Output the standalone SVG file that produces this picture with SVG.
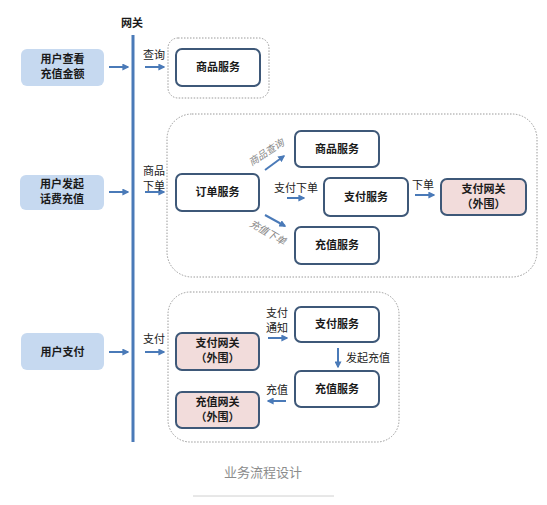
<svg xmlns="http://www.w3.org/2000/svg" width="547" height="505" viewBox="0 0 547 505">
<style>
.user{fill:#c6d9f0;stroke:none}
.svc{fill:#fff;stroke:#3e5878;stroke-width:2}
.ext{fill:#f2dcdb;stroke:#3e5878;stroke-width:2}
.grp{fill:none;stroke:#9a9a9a;stroke-width:1;stroke-dasharray:1.5 1.5}
.b{font-family:"Noto Sans CJK SC",sans-serif;font-size:11px;font-weight:bold;fill:#1a1a1a;text-anchor:middle}
.l{font-family:"Noto Sans CJK SC",sans-serif;font-size:11px;fill:#222}
.g{font-family:"Noto Sans CJK SC",serif;font-size:10px;fill:#888;font-style:italic}
.arr{stroke:#4a7ab8;stroke-width:2;fill:none;marker-end:url(#ah)}
</style>
<defs>
<marker id="ah" viewBox="0 0 10 10" refX="8" refY="5" markerWidth="3.5" markerHeight="3.5" orient="auto">
<path d="M0,0 L10,5 L0,10 z" fill="#4a7ab8"/>
</marker>
</defs>
<rect width="547" height="505" fill="#fff"/>

<g id="gateway">
<line x1="133" y1="35" x2="133" y2="442" stroke="#4a7ab8" stroke-width="3"/>
<text x="132" y="27" class="b">网关</text>
</g>

<g id="groups">
<rect class="grp" x="168" y="38" width="101" height="60" rx="10"/>
<rect class="grp" x="167" y="114" width="370" height="163" rx="25"/>
<rect class="grp" x="168" y="292" width="231" height="150" rx="22"/>
</g>

<g id="u1"><rect class="user" x="21" y="49" width="83" height="37" rx="6"/><text class="b" x="62.5" y="63">用户查看</text><text class="b" x="62.5" y="78">充值金额</text></g>
<g id="u2"><rect class="user" x="20" y="175" width="84" height="35" rx="6"/><text class="b" x="62" y="188">用户发起</text><text class="b" x="62" y="203">话费充值</text></g>
<g id="u3"><rect class="user" x="21" y="333" width="83" height="37" rx="6"/><text class="b" x="62.5" y="356">用户支付</text></g>

<g id="n1"><rect class="svc" x="176" y="49" width="84" height="37" rx="6"/><text class="b" x="218" y="71">商品服务</text></g>
<g id="n2"><rect class="svc" x="176" y="174" width="83" height="37" rx="6"/><text class="b" x="217.5" y="196">订单服务</text></g>
<g id="n3"><rect class="svc" x="295" y="131" width="84" height="36" rx="6"/><text class="b" x="337" y="153">商品服务</text></g>
<g id="n4"><rect class="svc" x="324" y="178" width="84" height="38" rx="6"/><text class="b" x="366" y="201">支付服务</text></g>
<g id="n5"><rect class="svc" x="295" y="227" width="84" height="37" rx="6"/><text class="b" x="337" y="249">充值服务</text></g>
<g id="n6"><rect class="ext" x="441" y="179" width="85" height="36" rx="6"/><text class="b" x="483.5" y="193">支付网关</text><text class="b" x="483.5" y="208">（外围）</text></g>
<g id="n7"><rect class="ext" x="176" y="333" width="83" height="37" rx="6"/><text class="b" x="217.5" y="347">支付网关</text><text class="b" x="217.5" y="362">（外围）</text></g>
<g id="n8"><rect class="ext" x="176" y="392" width="83" height="36" rx="6"/><text class="b" x="217.5" y="406">充值网关</text><text class="b" x="217.5" y="421">（外围）</text></g>
<g id="n9"><rect class="svc" x="295" y="307" width="84" height="35" rx="6"/><text class="b" x="337" y="328">支付服务</text></g>
<g id="n10"><rect class="svc" x="295" y="371" width="84" height="36" rx="6"/><text class="b" x="337" y="393">充值服务</text></g>

<g id="connectors">
<line class="arr" x1="109" y1="67" x2="128" y2="67"/>
<line class="arr" x1="109" y1="192" x2="128" y2="192"/>
<line class="arr" x1="109" y1="352" x2="128" y2="352"/>
<line class="arr" x1="145" y1="67" x2="164" y2="67"/>
<line class="arr" x1="145" y1="192" x2="164" y2="192"/>
<line class="arr" x1="145" y1="352" x2="164" y2="352"/>
<line class="arr" x1="265" y1="170" x2="284" y2="156"/>
<line class="arr" x1="265" y1="215" x2="285" y2="226"/>
<line class="arr" x1="287" y1="198" x2="304" y2="198"/>
<line class="arr" x1="415" y1="195" x2="434" y2="195"/>
<line class="arr" x1="268" y1="338" x2="287" y2="338"/>
<line class="arr" x1="338" y1="348" x2="338" y2="367"/>
<line class="arr" x1="286" y1="401" x2="268" y2="401"/>
</g>

<g id="labels">
<text class="l" x="143" y="175">商品</text>
<text class="l" x="143" y="190">下单</text>
<text class="l" x="143" y="59">查询</text>
<text class="l" x="143" y="343">支付</text>
<text class="g" x="266" y="156" text-anchor="middle" transform="rotate(-33 266 152)">商品查询</text>
<text class="g" x="268" y="236" text-anchor="middle" transform="rotate(30 268 232)">充值下单</text>
<text class="l" x="274" y="192">支付下单</text>
<text class="l" x="412" y="189">下单</text>
<text class="l" x="266" y="317">支付</text>
<text class="l" x="266" y="332">通知</text>
<text class="l" x="346" y="362">发起充值</text>
<text class="l" x="266" y="394">充值</text>
</g>

<g id="caption">
<text x="263" y="477" font-family="'Noto Sans CJK SC',sans-serif" font-size="13" fill="#8c8c8c" text-anchor="middle">业务流程设计</text>
<line x1="193" y1="496" x2="334" y2="496" stroke="#d0d0d0" stroke-width="1"/>
</g>
</svg>
